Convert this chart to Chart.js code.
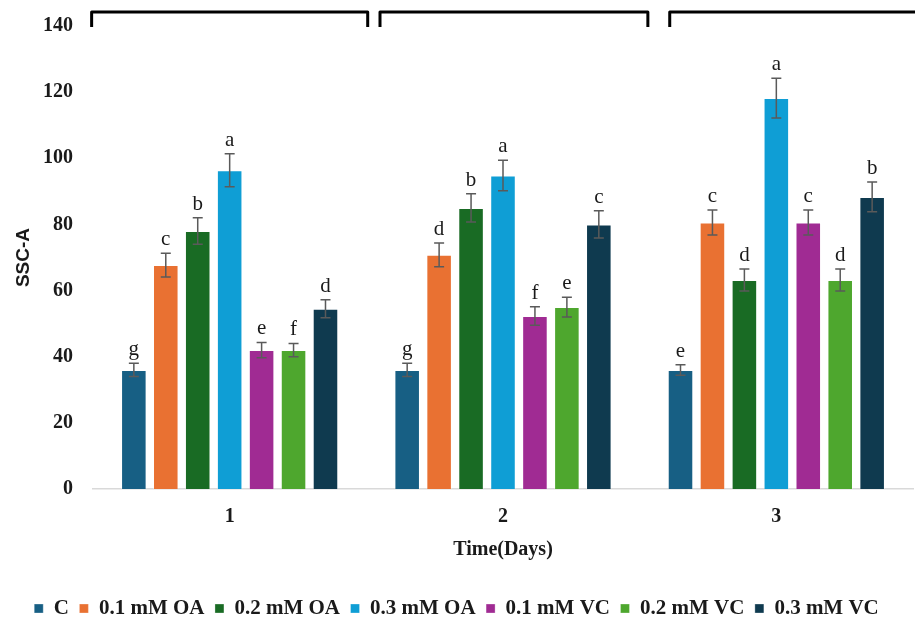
<!DOCTYPE html>
<html>
<head>
<meta charset="utf-8">
<script src="https://cdn.jsdelivr.net/npm/chart.js@4.4.1/dist/chart.umd.min.js"></script>
<style>
  html, body { margin: 0; padding: 0; background: #ffffff; }
  #wrap { width: 915px; height: 623px; position: relative; }
</style>
</head>
<body>
<div id="wrap"><canvas id="chart" width="915" height="623"></canvas></div>
<script>
// SSC-A by treatment over three days
const days = ['1', '2', '3'];
const seriesNames = ['C', '0.1 mM OA', '0.2 mM OA', '0.3 mM OA', '0.1 mM VC', '0.2 mM VC', '0.3 mM VC'];
const seriesColors = ['#175f84', '#e97132', '#196b24', '#0f9ed5', '#a02b93', '#4ea72e', '#0f3a4f'];

const valC     = [36.0, 36.0, 36.0];
const valOA01  = [67.7, 70.8, 80.6];
const valOA02  = [78.0, 85.0, 63.2];
const valOA03  = [96.4, 94.8, 118.2];
const valVC01  = [42.0, 52.3, 80.6];
const valVC02  = [42.0, 55.0, 63.2];
const valVC03  = [54.5, 80.0, 88.3];

const errC     = [2.0, 2.0, 1.6];
const errOA01  = [3.6, 3.6, 3.8];
const errOA02  = [4.0, 4.3, 3.3];
const errOA03  = [5.0, 4.6, 6.0];
const errVC01  = [2.3, 2.8, 3.8];
const errVC02  = [2.0, 3.0, 3.3];
const errVC03  = [2.7, 4.1, 4.5];

const letC     = ['g', 'g', 'e'];
const letOA01  = ['c', 'd', 'c'];
const letOA02  = ['b', 'b', 'd'];
const letOA03  = ['a', 'a', 'a'];
const letVC01  = ['e', 'f', 'c'];
const letVC02  = ['f', 'e', 'd'];
const letVC03  = ['d', 'c', 'b'];

const yTicks = [0, 20, 40, 60, 80, 100, 120, 140];

// bracket ends over each day, in category units relative to the day's centre
const bracketSpans = [[-0.505, 0.505], [-0.45, 0.53], [-0.39, 0.62]];

const allValues  = [valC, valOA01, valOA02, valOA03, valVC01, valVC02, valVC03];
const allErrors  = [errC, errOA01, errOA02, errOA03, errVC01, errVC02, errVC03];
const allLetters = [letC, letOA01, letOA02, letOA03, letVC01, letVC02, letVC03];

const datasets = seriesNames.map((name, i) => ({
  label: name,
  data: allValues[i],
  errors: allErrors[i],
  letters: allLetters[i],
  backgroundColor: seriesColors[i],
  borderColor: 'rgba(255,255,255,0.3)',
  borderWidth: 1,
  categoryPercentage: 0.818,
  barPercentage: 0.8
}));

const serif = '"Liberation Serif", "Times New Roman", serif';

// error bars, significance letters and the day brackets
const annotate = {
  id: 'annotate',
  afterDatasetsDraw(chart) {
    const ctx = chart.ctx;
    const y = chart.scales.y;
    ctx.save();
    chart.data.datasets.forEach((ds, di) => {
      const meta = chart.getDatasetMeta(di);
      meta.data.forEach((bar, i) => {
        const v = ds.data[i], e = ds.errors[i];
        const yTop = y.getPixelForValue(v + e);
        const yBot = y.getPixelForValue(v - e);
        ctx.strokeStyle = '#5a5a5a';
        ctx.lineWidth = 1.5;
        ctx.beginPath();
        ctx.moveTo(bar.x, yTop); ctx.lineTo(bar.x, yBot);
        ctx.moveTo(bar.x - 5, yTop); ctx.lineTo(bar.x + 5, yTop);
        ctx.moveTo(bar.x - 5, yBot); ctx.lineTo(bar.x + 5, yBot);
        ctx.stroke();
        ctx.fillStyle = '#1a1a1a';
        ctx.font = '21px ' + serif;
        ctx.textAlign = 'center';
        ctx.textBaseline = 'alphabetic';
        ctx.fillText(ds.letters[i], bar.x, yTop - 8);
      });
    });
    const x = chart.scales.x;
    const pitch = x.getPixelForValue(1) - x.getPixelForValue(0);
    const top = chart.chartArea.top - 14;
    const legBottom = chart.chartArea.top + 1;
    ctx.strokeStyle = '#000000';
    ctx.lineWidth = 3;
    ctx.lineJoin = 'round';
    bracketSpans.forEach((span, i) => {
      const c = x.getPixelForValue(i);
      const x0 = c + span[0] * pitch, x1 = c + span[1] * pitch;
      ctx.beginPath();
      ctx.moveTo(x0, legBottom);
      ctx.lineTo(x0, top);
      ctx.lineTo(x1, top);
      ctx.lineTo(x1, legBottom);
      ctx.stroke();
    });
    ctx.restore();
  }
};

new Chart(document.getElementById('chart'), {
  type: 'bar',
  data: { labels: days, datasets },
  plugins: [annotate],
  options: {
    responsive: false,
    animation: false,
    layout: { padding: { top: 26, right: 2, bottom: -6, left: 0 } },
    plugins: {
      tooltip: { enabled: false },
      legend: {
        position: 'bottom',
        labels: {
          boxWidth: 9,
          boxHeight: 9,
          padding: 0,
          color: '#1a1a1a',
          font: { family: serif, size: 21, weight: 'bold' },
          generateLabels(chart) {
            const items = Chart.defaults.plugins.legend.labels.generateLabels(chart);
            items.forEach((it, i) => { if (i < items.length - 1) it.text = it.text + '  '; });
            return items;
          }
        }
      }
    },
    scales: {
      x: {
        grid: { display: false, drawTicks: false },
        border: { display: true, color: '#d9d9d9', width: 1.5 },
        ticks: { color: '#1a1a1a', padding: 16, font: { family: serif, size: 20, weight: 'bold' } },
        title: {
          display: true,
          text: 'Time(Days)',
          color: '#1a1a1a',
          padding: { top: 0, bottom: 36 },
          font: { family: serif, size: 20, weight: 'bold' }
        },
        afterFit(scale) { scale.height = 109; }
      },
      y: {
        min: 0,
        max: 140,
        afterBuildTicks(scale) { scale.ticks = yTicks.map(v => ({ value: v })); },
        grid: { display: false, drawTicks: false },
        border: { display: false },
        ticks: { color: '#1a1a1a', padding: 20, font: { family: serif, size: 20, weight: 'bold' } },
        title: {
          display: true,
          text: 'SSC-A',
          color: '#1a1a1a',
          padding: { top: 12, bottom: 0 },
          font: { family: '"Liberation Sans", Arial, sans-serif', size: 19, weight: 'bold' }
        },
        afterFit(scale) { scale.width = 93; scale.paddingTop = 0; scale.paddingBottom = 0; }
      }
    }
  }
});
</script>
</body>
</html>
